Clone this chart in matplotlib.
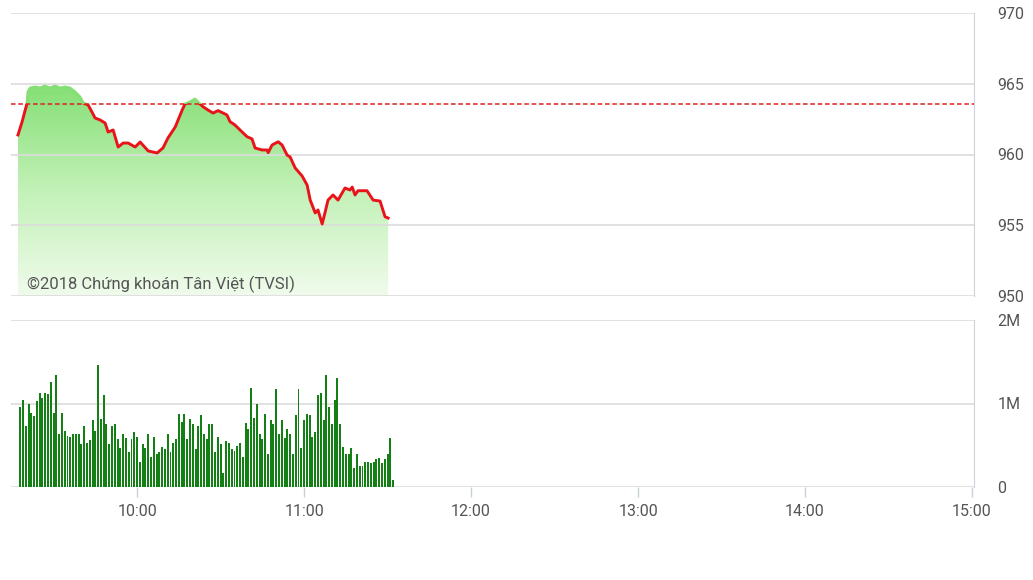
import matplotlib
matplotlib.use('Agg')
import matplotlib.pyplot as plt
import numpy as np
from matplotlib.colors import LinearSegmentedColormap
from matplotlib.patches import Rectangle

plt.rcParams['font.family'] = ['Roboto', 'DejaVu Sans']

# index line, time in minutes after 9:00
price_t = [17.2, 18.7, 19.8, 20.5, 20.8, 21.6, 23.4, 25.1, 26.9, 28.7, 30.5, 32.3, 34.1, 35.9,
           37.7, 39.5, 40.6, 42.4, 43.8, 44.9, 46.7, 48.5, 49.6, 51.4, 53.2, 55.0, 56.8, 59.3,
           61.1, 64.0, 67.2, 69.3, 71.1, 73.7, 76.2, 77.2, 79.0, 80.8, 82.6, 83.7, 85.5, 87.3,
           89.1, 90.9, 92.3, 93.4, 95.2, 97.0, 99.5, 101.3, 102.4, 104.9, 106.7, 107.1, 108.5,
           110.7, 112.1, 113.9, 115.0, 116.8, 119.3, 121.1, 122.2, 124.0, 125.0, 126.5, 127.5,
           128.6, 130.4, 132.2, 134.7, 136.5, 137.3, 138.3, 139.4, 142.6, 144.8, 147.3, 149.1, 150.2]
price = [961.38, 962.32, 963.14, 963.64, 964.42, 964.70, 964.77, 964.70, 964.84, 964.70, 964.84,
         964.70, 964.77, 964.70, 964.42, 964.06, 963.64, 963.50, 963.00, 962.58, 962.44, 962.23,
         961.59, 961.73, 960.53, 960.81, 960.81, 960.53, 960.88, 960.25, 960.11, 960.46, 961.17,
         961.94, 963.14, 963.57, 963.71, 963.92, 963.57, 963.38, 963.14, 962.93, 963.10, 962.93,
         962.79, 962.32, 962.08, 961.73, 961.26, 961.10, 960.46, 960.32, 960.32, 960.13, 960.67,
         960.90, 960.67, 959.96, 959.82, 959.05, 958.48, 957.84, 956.78, 955.87, 956.08, 955.09,
         955.87, 956.78, 957.14, 956.78, 957.63, 957.49, 957.70, 957.14, 957.44, 957.44, 956.78,
         956.71, 955.60, 955.51]
ref_price = 963.6

# volume per minute (millions), first bar at 9:18
vol_start = 18
volume = [0.96, 1.04, 0.73, 1.00, 0.89, 0.85, 1.03, 1.13, 1.06, 1.13, 1.11, 1.26, 0.89, 1.34,
          0.64, 0.89, 0.67, 0.61, 0.60, 0.63, 0.63, 0.64, 0.52, 0.73, 0.53, 0.56, 0.80, 0.67,
          1.46, 0.82, 1.10, 0.76,
          0.52, 0.73, 0.76, 0.57, 0.47, 0.64, 0.59, 0.42, 0.57, 0.66, 0.60, 0.30, 0.52, 0.47,
          0.64, 0.36, 0.60, 0.40, 0.42, 0.48, 0.46, 0.64, 0.42, 0.53, 0.57, 0.87, 0.78, 0.87,
          0.57, 0.82, 0.76, 0.46, 0.73, 0.86, 0.63, 0.57,
          0.76, 0.76, 0.42, 0.60, 0.52, 0.17, 0.55, 0.53, 0.46, 0.43, 0.49, 0.53, 0.36, 0.77,
          0.70, 1.19, 0.83, 0.99, 0.63, 0.58, 0.87, 0.39, 0.80, 0.76, 1.17, 0.63, 0.80, 0.59,
          0.70, 0.64, 0.40, 0.86, 1.17, 0.47,
          0.80, 0.87, 0.86, 0.60, 0.66, 1.10, 1.13, 0.80, 1.34, 0.96, 0.76, 1.04, 1.30, 0.76,
          0.48, 0.39, 0.39, 0.47, 0.23, 0.39, 0.25, 0.25, 0.30, 0.30, 0.29, 0.30, 0.33, 0.35,
          0.29, 0.34, 0.39, 0.59, 0.08]

price_ticks = [950, 955, 960, 965, 970]
vol_ticks = [0, 1, 2]
vol_labels = ['0', '1M', '2M']
time_ticks = [60, 120, 180, 240, 300, 360]
time_labels = ['10:00', '11:00', '12:00', '13:00', '14:00', '15:00']

grid_c = '#dcdcdc'
txt_c = '#555555'
xmin, xmax = 14.7, 360.7

fig = plt.figure(figsize=(10.33, 5.80), dpi=100)
ax = fig.add_axes([11 / 1033, 1 - 296 / 580, 963 / 1033, 283 / 580])
axv = fig.add_axes([11 / 1033, 1 - 487 / 580, 963 / 1033, 167 / 580])

t = np.array(price_t)
p = np.array(price)

# gradient fill under the line
cmap = LinearSegmentedColormap.from_list('g', ['#f0fbec', '#c2f1b7', '#84df74'])
grad = np.linspace(0, 1, 256).reshape(-1, 1)
im = ax.imshow(grad, extent=[t[0], t[-1], 950, 965], origin='lower', aspect='auto',
               cmap=cmap, zorder=1)
poly = ax.fill_between(t, p, 950, color='none', lw=0)
im.set_clip_path(poly.get_paths()[0], transform=ax.transData)

# red below reference, green above
red, = ax.plot(t, p, color='#e8141a', lw=2.1, zorder=4, solid_joinstyle='round')
red.set_clip_path(Rectangle((0, 940), 400, ref_price - 940, transform=ax.transData))
grn, = ax.plot(t, p, color='#86df76', lw=2.1, zorder=4)
grn.set_clip_path(Rectangle((0, ref_price), 400, 20, transform=ax.transData))

ax.axhline(ref_price, color='#e02020', lw=1.1, ls=(0, (3, 1.8)), zorder=5)

ax.text(16 / 963, 0.042, '©2018 Chứng khoán Tân Việt (TVSI)', transform=ax.transAxes,
        fontsize=12, color=txt_c, va='center', ha='left', zorder=6)

ax.set_xlim(xmin, xmax)
ax.set_ylim(950, 970)
ax.set_yticks(price_ticks)
ax.set_xticks([])
ax.yaxis.tick_right()
ax.tick_params(axis='y', length=0, pad=17, labelsize=11.5, labelcolor=txt_c)
ax.grid(axis='y', color=grid_c, lw=1.2, zorder=0)
for s in ['left', 'top', 'bottom']:
    ax.spines[s].set_visible(False)
ax.spines['right'].set_color('#ccd5dd')

# volume
vt = vol_start + np.arange(len(volume))
axv.bar(vt, volume, width=0.7, color='#147f14', zorder=3)
axv.set_xlim(xmin, xmax)
axv.set_ylim(0, 2)
axv.set_yticks(vol_ticks)
axv.set_yticklabels(vol_labels)
axv.yaxis.tick_right()
axv.tick_params(axis='y', length=0, pad=17, labelsize=11.5, labelcolor=txt_c)
axv.set_xticks(time_ticks)
axv.set_xticklabels(time_labels)
axv.tick_params(axis='x', length=7, width=1, color='#c8d0d8', pad=5, labelsize=11.5,
                labelcolor=txt_c)
axv.grid(axis='y', color=grid_c, lw=1.2, zorder=0)
for s in ['left', 'top', 'bottom']:
    axv.spines[s].set_visible(False)
axv.spines['right'].set_color('#ccd5dd')

fig.savefig('out.png', dpi=100, facecolor='white')
